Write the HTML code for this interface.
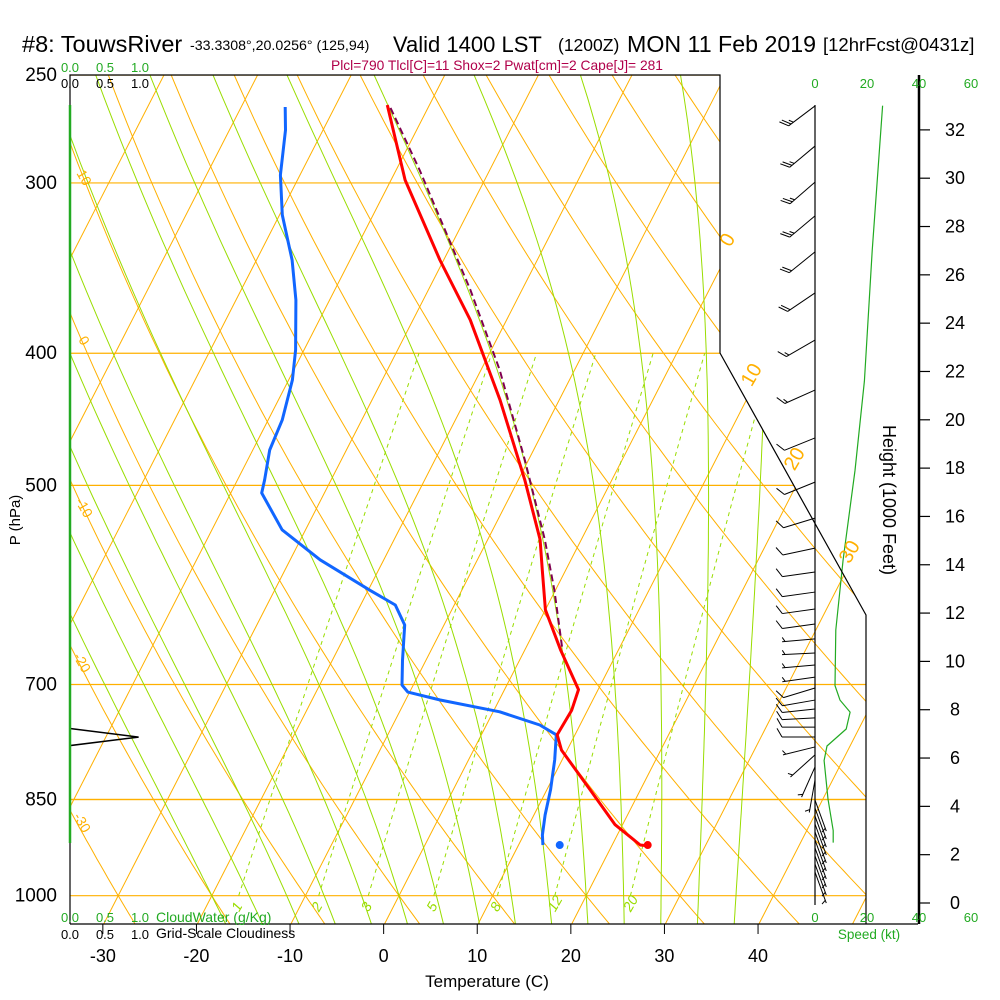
<!DOCTYPE html>
<html><head><meta charset="utf-8">
<style>
html,body{margin:0;padding:0;background:#fff;}
svg{display:block;font-family:"Liberation Sans",Arial,sans-serif;}
</style></head>
<body>
<svg id="chart" width="1000" height="1000" viewBox="0 0 1000 1000">
<defs>
<clipPath id="plotclip"><polygon points="70,75 720,75 720,353 866,615 866,924 70,924"/></clipPath>
</defs>
<g id="bg" clip-path="url(#plotclip)"></g>
<g id="series"></g>
<g id="frame">
<polyline points="70,924 70,75 720,75 720,353 866,615 866,924" fill="none" stroke="#000" stroke-width="1.2"/>
<line x1="70" y1="924" x2="918" y2="924" stroke="#000" stroke-width="1.2"/>
<line x1="815" y1="105" x2="815" y2="905" stroke="#000" stroke-width="1.2"/>
<line x1="919" y1="75" x2="919" y2="924" stroke="#000" stroke-width="2.5"/>
<line x1="70" y1="105" x2="70" y2="843" stroke="#22aa22" stroke-width="2.5"/>
</g>
<g id="labels"></g>
<g id="texts">
<text x="22" y="52" font-size="23.5">#8: TouwsRiver</text>
<text x="190" y="50" font-size="14.2">-33.3308°,20.0256° (125,94)</text>
<text x="393" y="52" font-size="22">Valid 1400 LST</text>
<text x="558" y="51" font-size="17.5">(1200Z)</text>
<text x="627" y="52" font-size="23.2">MON 11 Feb 2019</text>
<text x="823" y="51" font-size="18.5">[12hrFcst@0431z]</text>
<text x="497" y="70" font-size="13.8" fill="#b0004a" text-anchor="middle">Plcl=790 Tlcl[C]=11 Shox=2 Pwat[cm]=2 Cape[J]= 281</text>
<text x="20" y="520" font-size="15" transform="rotate(-90 20 520)" text-anchor="middle">P (hPa)</text>
<text x="487" y="987" font-size="17" text-anchor="middle">Temperature (C)</text>
<text x="883" y="500" font-size="18" transform="rotate(90 883 500)" text-anchor="middle">Height (1000 Feet)</text>
<text x="156" y="922" font-size="14" fill="#22aa22">CloudWater (g/Kg)</text>
<text x="156" y="938" font-size="14">Grid-Scale Cloudiness</text>
<text x="869" y="939" font-size="13.5" fill="#22aa22" text-anchor="middle">Speed (kt)</text>
</g>
</svg>
<script>
// ---- Data arrays ----
var tempP = [263,298.5,341.7,378,433,495.5,548,577,617,660,706,731,762,782,836,887,918,919];
var tempT = [-44.5,-38.5,-30.4,-23.9,-16.3,-9.3,-4.4,-2.5,0.0,3.8,7.9,8.3,8.1,9.4,14.6,19.2,23.0,23.8];
var dewP = [263.9,274.4,296,316.7,341.7,365.6,397.8,418.5,447.8,471,495.5,506.5,539,567,597,612,633,672,700.6,709,718.5,733,749.5,762,795,836,872.6,902.5,918];
var dewT = [-55.3,-54.0,-52.1,-49.7,-46.2,-43.6,-40.9,-39.6,-38.5,-38.2,-37.1,-36.7,-32.5,-26.8,-19.8,-16.3,-14.2,-12.5,-11.2,-10.2,-6.3,0.7,5.7,8.0,9.2,10.4,11.2,12.0,12.6];
var parcelP = [264.3,293.5,359.5,411.5,479,548,597,660];
var parcelT = [-44.0,-37.5,-25.5,-18.0,-10.4,-3.9,-0.1,4.0];
var sfcP = 918, sfcT = 23.8, sfcTd = 14.4;
var barbKft = [32.99,31.33,29.84,28.44,26.95,25.25,23.30,21.23,19.25,17.42,15.93,14.69,13.70,12.87,12.17,11.55,10.93,10.35,9.85,9.35,8.90,8.40,8.03,7.66,7.28,6.87,6.46,6.13,5.63,5.09,4.26,3.93,3.6,3.27,2.94,2.61,2.28,1.95,1.61,1.28];
var barbDir = [233,230,229,230,231,236,240,246,248,248,253,258,262,262,262,262,265,267,265,262,253,260,264,267,270,270,256,228,204,190,160,160,160,160,160,160,160,160,160,160];
var barbSpd = [25,25,25,25,20,20,15,15,10,10,10,10,10,10,10,10,5,5,5,5,10,10,10,10,10,10,5,5,5,5,5,5,5,5,5,5,5,5,5,5];
var speedKft = [33.0,27.0,21.6,17.9,14.2,11.3,9.0,8.4,7.9,7.2,6.5,5.9,4.3,3.0,2.5];
var speedKt = [26,22,19,15.4,10.8,8,7.7,9.6,13.5,12,4.6,3.5,5,7,7];
var cloudP = [754,765,776,786];
var cloudFrac = [0.0,0.98,0.0,0.0];
var pressureTicks = [250,300,400,500,700,850,1000];
var tempTicks = [-30,-20,-10,0,10,20,30,40];
var heightTicks = [0,2,4,6,8,10,12,14,16,18,20,22,24,26,28,30,32];
var mixRatios = [1,2,3,5,8,12,20];

// ---- Axis functions ----
var NS="http://www.w3.org/2000/svg";
function yP(p){return 75+592*Math.log(p/250);}
function xT(T,p){return 384+9.36*T+0.512*(925-yP(p));}
function yH(k){return 903-24.16*k;}
function xS(s){return 815+2.6*s;}
function xC(c){return 70+70*c;}
function mk(tag,attrs,parent){var e=document.createElementNS(NS,tag);for(var k in attrs)e.setAttribute(k,attrs[k]);parent.appendChild(e);return e;}
var bg=document.getElementById('bg'), ser=document.getElementById('series'), lab=document.getElementById('labels');
var ORANGE="#ffb000", GREEN="#99dd00";

// isobars
pressureTicks.concat([850]).forEach(function(p){
  var l=mk('line',{x1:70,x2:870,y1:yP(p),y2:yP(p),stroke:ORANGE,'stroke-width':1.2},bg);
  
  
});
// isotherms
for(var T=-120;T<=50;T+=10){
  var l=mk('line',{x1:xT(T,1060),y1:yP(1060),x2:xT(T,240),y2:yP(240),stroke:ORANGE,'stroke-width':1},bg);
  
  
}
// dry adiabats
for(var k=-60;k<=200;k+=10){
  var th=273.15+k;
  var pts=[];for(var p=1060;p>=240;p-=10){var t=th*Math.pow(p/1000,0.286)-273.15;pts.push(xT(t,p).toFixed(1)+','+yP(p).toFixed(1));}
  var l=mk('polyline',{points:pts.join(' '),fill:'none',stroke:ORANGE,'stroke-width':1},bg);
  
  
}
// moist adiabats
function es(tc){return 6.112*Math.exp(17.67*tc/(tc+243.5));}
function dTdp(t,p){var tc=t-273.15,e=es(tc),rs=0.622*e/(p-e);return (1/p)*(287*t+2.5e6*rs)/(1005+2.5e6*2.5e6*rs*0.622/(287*t*t));}
for(var tw=-20;tw<=36;tw+=4){
  var t=tw+273.15,pts=[];
  // downward to 1060
  var td=t,lower=[];
  for(var p=1000;p<1060;p+=2){td+=dTdp(td,p)*2;if((p+2)%10===0)lower.push(xT(td-273.15,p+2).toFixed(1)+','+yP(p+2).toFixed(1));}
  lower.reverse();
  for(var p=1000;p>=240;p-=2){
    if(p%10===0)pts.push(xT(t-273.15,p).toFixed(1)+','+yP(p).toFixed(1));
    t-=dTdp(t,p)*2;
  }
  var l=mk('polyline',{points:lower.concat(pts).join(' '),fill:'none',stroke:GREEN,'stroke-width':1},bg);
  
  
}
// mixing ratio lines
function tdw(w,p){var e=(w/1000)*p/(0.622+w/1000);var a=Math.log(e/6.112);return 243.5*a/(17.67-a);}
mixRatios.forEach(function(w){
  var pts=[];for(var p=1000;p>=400;p-=10)pts.push(xT(tdw(w,p),p).toFixed(1)+','+yP(p).toFixed(1));
  var l=mk('polyline',{points:pts.join(' '),fill:'none',stroke:GREEN,'stroke-width':1,'stroke-dasharray':'4,4'},bg);
  
  
  var lx=xT(tdw(w,1000),1000)-4;
  var tx=mk('text',{x:lx,y:915,'font-size':14,fill:GREEN,'font-style':'italic',transform:'rotate(-60 '+lx+' 910)'},lab);
  tx.textContent=w;
  
  
});
// adiabat labels
[[80,180,'10'],[80,343,'0'],[80,510,'-10'],[78,665,'-20'],[78,825,'-30'],[733,243,'0'],[757,378,'10'],[800,462,'20'],[855,555,'30']].forEach(function(a,i){
  var big=i>=5;
  var tx=mk('text',{x:a[0],y:a[1],'font-size':big?20:14,fill:ORANGE,'text-anchor':'middle',transform:'rotate('+(big?-60:60)+' '+a[0]+' '+a[1]+')'},lab);
  tx.textContent=a[2];
  
  
});

// profiles
function line(P,T,attrs,name){
  var pts=P.map(function(p,i){return xT(T[i],p).toFixed(1)+','+yP(p).toFixed(1);}).join(' ');
  attrs.points=pts;attrs.fill='none';attrs['stroke-linejoin']='round';
  var l=mk('polyline',attrs,ser);
  
  
}
line(parcelP,parcelT,{stroke:'#800050','stroke-width':2,'stroke-dasharray':'7,4'},'parcel-line');
line(dewP,dewT,{stroke:'#1166ff','stroke-width':3},'dewpoint-line');
line(tempP,tempT,{stroke:'#ff0000','stroke-width':3},'temperature-line');
var d1=mk('circle',{cx:xT(sfcT,sfcP),cy:yP(sfcP),r:4,fill:'#ff0000'},ser);


var d2=mk('circle',{cx:xT(sfcTd,sfcP),cy:yP(sfcP),r:4,fill:'#1166ff'},ser);



// cloudiness
var cpts=cloudP.map(function(p,i){return xC(cloudFrac[i]).toFixed(1)+','+yP(p).toFixed(1);}).join(' ');
var cl=mk('polyline',{points:cpts,fill:'none',stroke:'#000','stroke-width':1.5},ser);



// wind speed line
var spts=speedKft.map(function(k,i){return xS(speedKt[i]).toFixed(1)+','+yH(k).toFixed(1);}).join(' ');
var sl=mk('polyline',{points:spts,fill:'none',stroke:'#22aa22','stroke-width':1.2},ser);



// barbs
barbKft.forEach(function(k,i){
  var y0=yH(k),x0=815,L=33,r=barbDir[i]*Math.PI/180;
  var ux=Math.sin(r),uy=-Math.cos(r);
  var x1=x0+ux*L,y1=y0+uy*L;
  var g=mk('g',{stroke:'#000','stroke-width':1,fill:'none'},ser);
  
  
  mk('line',{x1:x0,y1:y0,x2:x1,y2:y1},g);
  var s=barbSpd[i],pos=0;
  var fx=ux*0.5-uy*0.87,fy=uy*0.5+ux*0.87;
  while(s>=10){var bx=x1-ux*pos,by=y1-uy*pos;mk('line',{x1:bx,y1:by,x2:bx+fx*10,y2:by+fy*10},g);pos+=3;s-=10;}
  if(s>=5){var bx=x1-ux*(pos||3),by=y1-uy*(pos||3);mk('line',{x1:bx,y1:by,x2:bx+fx*5,y2:by+fy*5},g);}
});

// tick labels
pressureTicks.forEach(function(p){
  var t=mk('text',{x:57,y:yP(p)+6,'font-size':19,'text-anchor':'end'},lab);t.textContent=p;
  
  
});
tempTicks.forEach(function(T){
  var x=xT(T,1052);
  mk('line',{x1:x,y1:924,x2:x,y2:934,stroke:'#000'},lab);
  var t=mk('text',{x:x,y:962,'font-size':18,'text-anchor':'middle'},lab);t.textContent=T;
  
  
});
heightTicks.forEach(function(h){
  mk('line',{x1:919,y1:yH(h),x2:930,y2:yH(h),stroke:'#000','stroke-width':1.2},lab);
  var t=mk('text',{x:955,y:yH(h)+6,'font-size':18,'text-anchor':'middle'},lab);t.textContent=h;
  
  
});
[['0.0',0],['0.5',0.5],['1.0',1]].forEach(function(c){
  [[72,'#22aa22'],[88,'#000'],[922,'#22aa22'],[939,'#000']].forEach(function(r){
    var t=mk('text',{x:xC(c[1]),y:r[0],'font-size':13,fill:r[1],'text-anchor':'middle'},lab);t.textContent=c[0];
    
    
  });
});
[0,20,40,60].forEach(function(s){
  [88,922].forEach(function(y){
    var t=mk('text',{x:xS(s),y:y,'font-size':13,fill:'#22aa22','text-anchor':'middle'},lab);t.textContent=s;
    
    
  });
});
</script>
</body></html>
